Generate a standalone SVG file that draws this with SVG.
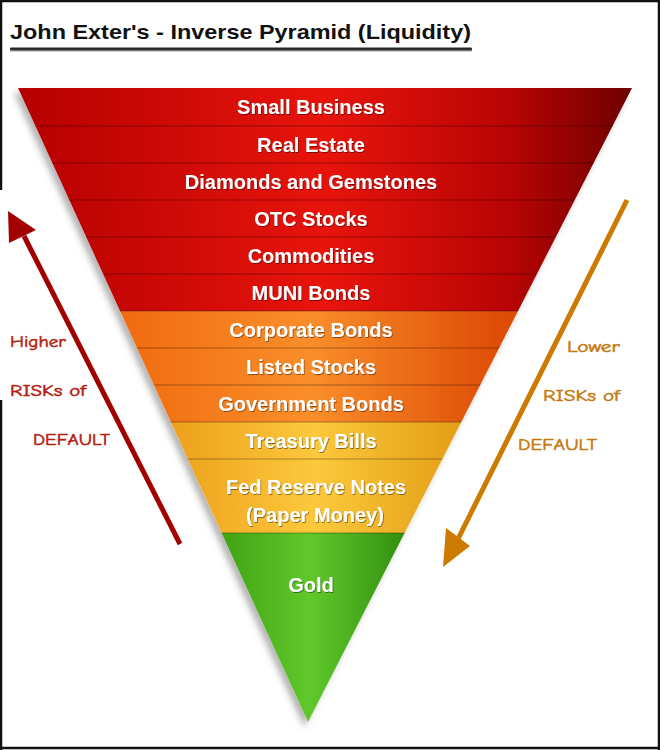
<svg xmlns="http://www.w3.org/2000/svg" width="660" height="750" viewBox="0 0 660 750">
<defs>
<style>
.lbl{font-family:"Liberation Sans",Arial,sans-serif;font-weight:bold;font-size:20px;fill:#fff;text-anchor:middle;filter:url(#ts)}
.hand{font-family:"Comic Sans MS","Comic Neue","DejaVu Sans",sans-serif;font-size:15px;stroke-width:0.5}
.sep{stroke:#000;stroke-opacity:.22;stroke-width:1.5}
.border{stroke:#111;stroke-width:2.5;fill:none}
</style>
<linearGradient id="gRed" gradientUnits="userSpaceOnUse" x1="18" y1="0" x2="632" y2="0">
<stop offset="0" stop-color="#b40000"/><stop offset="0.5" stop-color="#e8140c"/><stop offset="0.8" stop-color="#b80404"/><stop offset="1" stop-color="#6e0000"/>
</linearGradient>
<linearGradient id="gOrg" gradientUnits="userSpaceOnUse" x1="120" y1="0" x2="500" y2="0">
<stop offset="0" stop-color="#f06a10"/><stop offset="0.5" stop-color="#fa8e2a"/><stop offset="1" stop-color="#de4c06"/>
</linearGradient>
<linearGradient id="gYel" gradientUnits="userSpaceOnUse" x1="170" y1="0" x2="460" y2="0">
<stop offset="0" stop-color="#eda01c"/><stop offset="0.5" stop-color="#fcc83c"/><stop offset="1" stop-color="#e29e16"/>
</linearGradient>
<linearGradient id="gGrn" gradientUnits="userSpaceOnUse" x1="200" y1="0" x2="420" y2="0">
<stop offset="0" stop-color="#3a9a10"/><stop offset="0.5" stop-color="#60c82a"/><stop offset="1" stop-color="#2c860e"/>
</linearGradient>
<clipPath id="tri"><polygon points="18,88 632,88 308,722"/></clipPath>
<filter id="shadow" x="-10%" y="-10%" width="120%" height="120%">
<feDropShadow dx="-4" dy="5" stdDeviation="3" flood-color="#777" flood-opacity="0.55"/>
</filter>
<filter id="ts" x="-5%" y="-20%" width="110%" height="150%">
<feDropShadow dx="0.8" dy="1" stdDeviation="0.6" flood-color="#000" flood-opacity="0.45"/>
</filter>
</defs>
<rect width="660" height="750" fill="#fff"/>
<g id="frame">
<line class="border" x1="0" y1="1" x2="660" y2="1"/>
<line class="border" x1="659" y1="0" x2="659" y2="750"/>
<line class="border" x1="0" y1="748" x2="660" y2="748"/>
<line class="border" x1="1" y1="0" x2="1" y2="190"/>
<line class="border" x1="1" y1="400" x2="1" y2="750"/>
</g>
<g id="title">
<text x="10" y="39" font-family="'Liberation Sans',Arial,sans-serif" font-weight="bold" font-size="21" fill="#111" textLength="461" lengthAdjust="spacingAndGlyphs">John Exter's - Inverse Pyramid (Liquidity)</text>
<rect x="10" y="49" width="462" height="3" fill="#aaa" opacity="0.6"/>
<rect x="10" y="47.5" width="462" height="3" rx="1" fill="#2a2a2a"/>
</g>
<polygon points="18,88 632,88 308,722" fill="#fff" filter="url(#shadow)"/>
<g clip-path="url(#tri)">
<g id="small-business"><rect x="0" y="88" width="660" height="38" fill="url(#gRed)"/><text class="lbl" x="311" y="114">Small Business</text></g>
<g id="real-estate"><rect x="0" y="126" width="660" height="37" fill="url(#gRed)"/><text class="lbl" x="311" y="152">Real Estate</text></g>
<g id="diamonds"><rect x="0" y="163" width="660" height="37" fill="url(#gRed)"/><text class="lbl" x="311" y="189">Diamonds and Gemstones</text></g>
<g id="otc-stocks"><rect x="0" y="200" width="660" height="37" fill="url(#gRed)"/><text class="lbl" x="311" y="226">OTC Stocks</text></g>
<g id="commodities"><rect x="0" y="237" width="660" height="37" fill="url(#gRed)"/><text class="lbl" x="311" y="263">Commodities</text></g>
<g id="muni-bonds"><rect x="0" y="274" width="660" height="37" fill="url(#gRed)"/><text class="lbl" x="311" y="300">MUNI Bonds</text></g>
<g id="corporate-bonds"><rect x="0" y="311" width="660" height="37" fill="url(#gOrg)"/><text class="lbl" x="311" y="337">Corporate Bonds</text></g>
<g id="listed-stocks"><rect x="0" y="348" width="660" height="37" fill="url(#gOrg)"/><text class="lbl" x="311" y="374">Listed Stocks</text></g>
<g id="government-bonds"><rect x="0" y="385" width="660" height="37" fill="url(#gOrg)"/><text class="lbl" x="311" y="411">Government Bonds</text></g>
<g id="treasury-bills"><rect x="0" y="422" width="660" height="37" fill="url(#gYel)"/><text class="lbl" x="311" y="448">Treasury Bills</text></g>
<g id="fed-reserve-notes"><rect x="0" y="459" width="660" height="74" fill="url(#gYel)"/><text class="lbl" x="316" y="494">Fed Reserve Notes</text><text class="lbl" x="315" y="522">(Paper Money)</text></g>
<g id="gold"><rect x="0" y="533" width="660" height="190" fill="url(#gGrn)"/><text class="lbl" x="311" y="592">Gold</text></g>
<g id="separators">
<line class="sep" x1="0" y1="126" x2="660" y2="126"/>
<line class="sep" x1="0" y1="163" x2="660" y2="163"/>
<line class="sep" x1="0" y1="200" x2="660" y2="200"/>
<line class="sep" x1="0" y1="237" x2="660" y2="237"/>
<line class="sep" x1="0" y1="274" x2="660" y2="274"/>
<line class="sep" x1="0" y1="311" x2="660" y2="311"/>
<line class="sep" x1="0" y1="348" x2="660" y2="348"/>
<line class="sep" x1="0" y1="385" x2="660" y2="385"/>
<line class="sep" x1="0" y1="422" x2="660" y2="422"/>
<line class="sep" x1="0" y1="459" x2="660" y2="459"/>
<line class="sep" x1="0" y1="533" x2="660" y2="533"/>
</g>
</g>
<g id="connectors">
<g id="arrow-higher">
<line x1="180" y1="544" x2="24" y2="236" stroke="#a30000" stroke-width="5"/>
<polygon points="8,211 36,230 9,243" fill="#a30000"/>
</g>
<g id="arrow-lower">
<line x1="627" y1="200" x2="457" y2="541" stroke="#cc7a00" stroke-width="5"/>
<polygon points="443,567 446,528 470,546" fill="#cc7a00"/>
</g>
</g>
<g id="label-higher" class="hand" fill="#b4200e" stroke="#b4200e">
<text x="10" y="347" textLength="56" lengthAdjust="spacingAndGlyphs">Higher</text>
<text x="10" y="396" textLength="76" lengthAdjust="spacingAndGlyphs">RISKs of</text>
<text x="33" y="445" textLength="77" lengthAdjust="spacingAndGlyphs">DEFAULT</text>
</g>
<g id="label-lower" class="hand" fill="#c47a10" stroke="#c47a10">
<text x="567" y="352" textLength="53" lengthAdjust="spacingAndGlyphs">Lower</text>
<text x="543" y="401" textLength="77" lengthAdjust="spacingAndGlyphs">RISKs of</text>
<text x="518" y="450" textLength="79" lengthAdjust="spacingAndGlyphs">DEFAULT</text>
</g>
</svg>
